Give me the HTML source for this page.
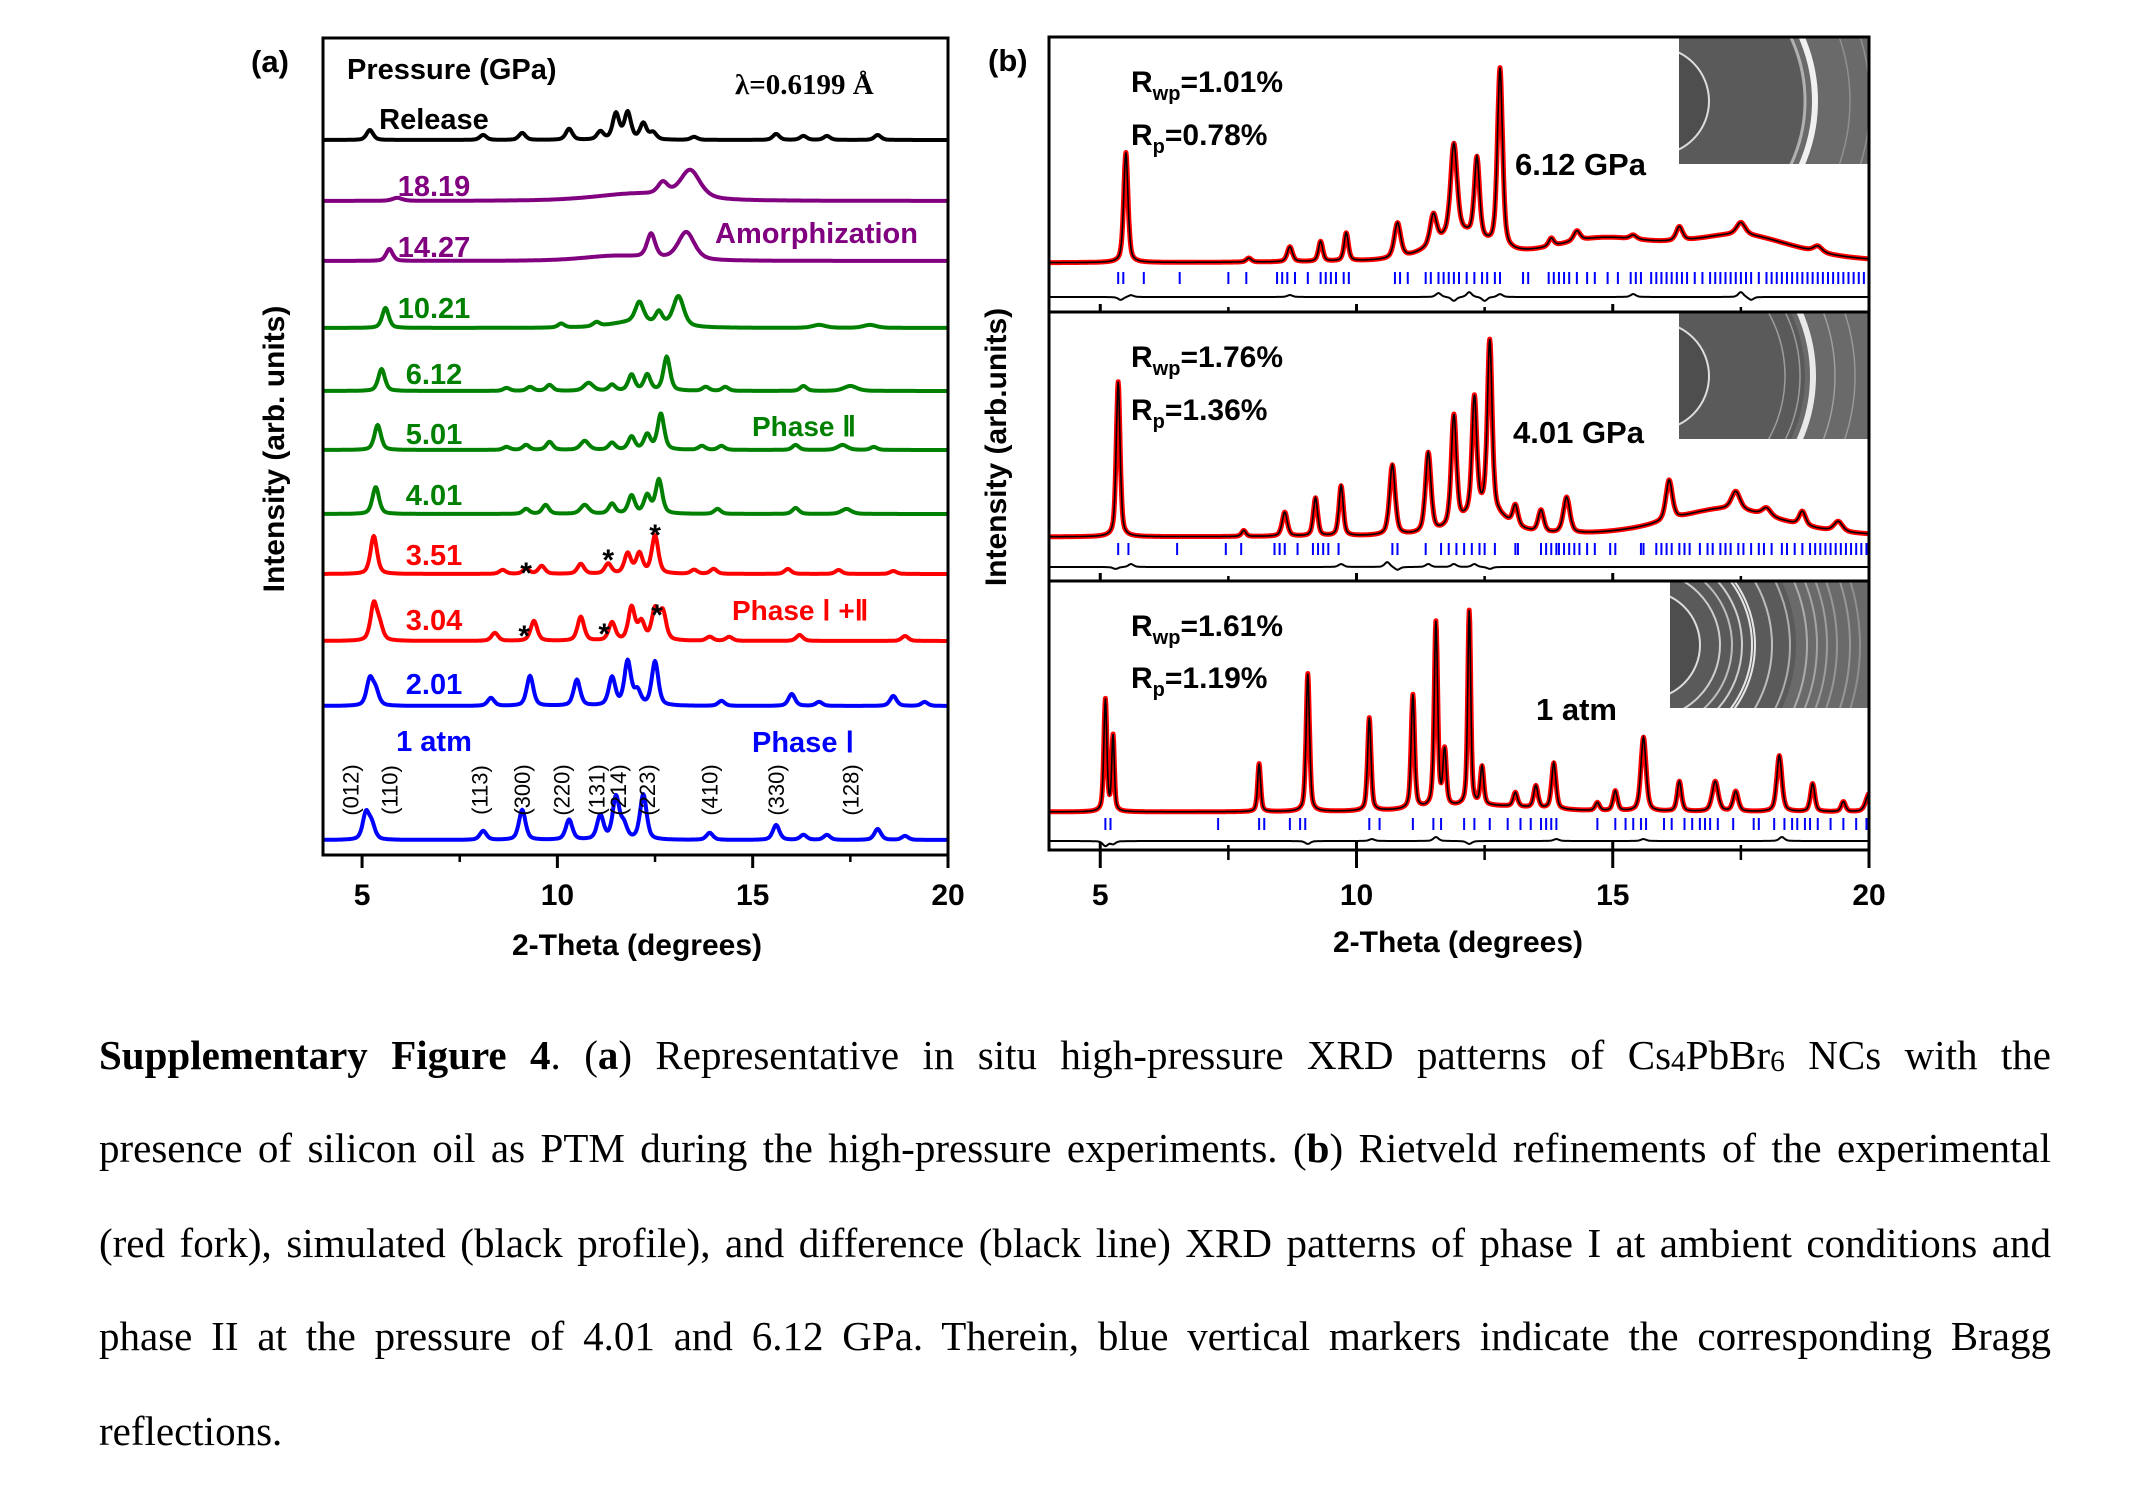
<!DOCTYPE html>
<html><head><meta charset="utf-8">
<style>
html,body{margin:0;padding:0;background:#fff;}
#wrap{position:relative;width:2138px;height:1485px;overflow:hidden;}
svg{position:absolute;left:0;top:0;}
.cap{position:absolute;left:99px;width:1952px;font-family:"Liberation Serif",serif;font-size:41px;line-height:50px;color:#000;text-align:justify;text-align-last:justify;white-space:nowrap;}
.cap.last{text-align-last:left;}
.cap sub{font-size:0.72em;vertical-align:baseline;position:relative;top:2px;}
</style></head>
<body>
<div id="wrap">
<svg id="fig" width="2138" height="1000" viewBox="0 0 2138 1000" font-family="Liberation Sans, sans-serif" font-weight="bold">
<defs>
<clipPath id="clipA"><rect x="323" y="38" width="625" height="817"/></clipPath>
<clipPath id="in1"><rect x="1679" y="38" width="190" height="126"/></clipPath>
<clipPath id="in2"><rect x="1679" y="313" width="190" height="126"/></clipPath>
<clipPath id="in3"><rect x="1670" y="582" width="199" height="126"/></clipPath>
</defs>
<g id="panelA"></g>
<g id="panelB"></g>
</svg>
<div class="cap" style="top:1030px"><b>Supplementary Figure 4</b>. (<b>a</b>) Representative in situ high-pressure XRD patterns of Cs<sub>4</sub>PbBr<sub>6</sub> NCs with the</div>
<div class="cap" style="top:1123px">presence of silicon oil as PTM during the high-pressure experiments. (<b>b</b>) Rietveld refinements of the experimental</div>
<div class="cap" style="top:1218px">(red fork), simulated (black profile), and difference (black line) XRD patterns of phase I at ambient conditions and</div>
<div class="cap" style="top:1311px">phase II at the pressure of 4.01 and 6.12 GPa. Therein, blue vertical markers indicate the corresponding Bragg</div>
<div class="cap last" style="top:1406px">reflections.</div>
</div>
<script>
// ---------- DATA (panel a) ----------
const xTicks = [5, 10, 15, 20];
const xMinorTicks = [7.5, 12.5, 17.5];
const traceLabels = ["Release","18.19","14.27","10.21","6.12","5.01","4.01","3.51","3.04","2.01","1 atm"];
const traceColors = ["#000000","#800080","#800080","#008000","#008000","#008000","#008000","#ff0000","#ff0000","#0000ff","#0000ff"];
const traceBaselines = [140,201,261,328,391,450,514,574,641,706,840];
const peaksRelease = [[5.2,10],[8.1,5],[9.1,7],[10.3,11],[11.1,8],[11.5,26],[11.8,27],[12.2,16],[12.45,7],[13.5,3],[15.6,6],[16.3,4],[16.9,4],[18.2,5]];
const peaks1819 = [[5.9,3,0.3],[12.0,7,2.5],[12.7,12,0.3],[13.4,28,0.6]];
const peaks1427 = [[5.7,12],[11.5,5,2.0],[12.4,24,0.25],[13.3,28,0.5]];
const peaks1021 = [[5.6,20],[10.1,4],[11.0,4],[12.0,6,1.5],[12.1,20,0.25],[12.6,12],[13.1,30,0.32],[16.7,3,0.4],[18.0,3,0.4]];
const peaks612 = [[5.5,22],[8.7,3],[9.3,4],[9.8,6],[10.8,8,0.28],[11.4,6],[11.9,16],[12.3,16],[12.8,34],[13.8,4],[14.3,4],[16.3,5],[17.5,5,0.4]];
const peaks501 = [[5.4,25],[8.7,3],[9.2,5],[9.8,8],[10.7,9,0.25],[11.4,7],[11.9,13],[12.3,15],[12.65,36],[13.7,4],[14.2,4],[16.1,5],[17.3,5,0.3],[18.1,3]];
const peaks401 = [[5.35,27],[9.2,5],[9.7,9],[10.7,9,0.25],[11.4,10],[11.9,18],[12.3,18],[12.6,34],[14.1,5],[16.1,6],[17.4,5,0.3]];
const peaks351 = [[5.3,38],[8.6,4],[9.2,5],[9.6,8],[10.6,10],[11.3,10],[11.8,20],[12.1,20],[12.5,38],[13.5,4],[14.0,5],[15.9,5],[17.2,4],[18.6,3]];
const peaks304 = [[5.3,36],[5.45,14],[8.4,8],[9.4,20],[10.6,24],[11.4,18],[11.9,33],[12.15,18],[12.5,30],[12.7,28],[13.9,4],[14.4,4],[16.2,6],[18.9,5]];
const peaks201 = [[5.2,26],[5.35,14],[8.3,8],[9.3,30],[10.5,26],[11.4,28],[11.8,44],[12.05,14],[12.5,44],[14.2,5],[16.0,12],[16.7,4],[18.6,10],[19.4,4]];
const peaks1atm = [[5.1,26],[5.25,14],[8.1,9],[9.1,30],[10.3,20],[11.1,24],[11.5,42],[11.7,14],[12.2,45],[13.9,7],[15.6,15],[16.3,5],[16.9,5],[18.2,11],[18.9,4]];
const tracePeaks = [peaksRelease,peaks1819,peaks1427,peaks1021,peaks612,peaks501,peaks401,peaks351,peaks304,peaks201,peaks1atm];
const traceLabelY = [119,186,247,308,374,434,495,555,620,684,741];
const hklLabels = ["(012)","(110)","(113)","(300)","(220)","(131)","(214)","(223)","(410)","(330)","(128)"];
const hklPos = [4.7,5.7,8.0,9.1,10.1,11.0,11.55,12.3,13.9,15.6,17.5];
const starsX = [9.2,11.3,12.5,9.15,11.2,12.55];
const starsY = [569,556,531,632,630,611];

// ---------- DATA (panel b) ----------
const obsTop = [[12.0,26,1.2],[14.8,22,2.5],[17.5,26,2.5],[5.5,110,0.1],[7.9,4,0.12],[8.7,15,0.12],[9.3,20,0.1],[9.8,28,0.1],[10.8,35,0.15],[11.5,30,0.15],[11.9,90,0.15],[12.35,80,0.12],[12.8,180,0.12],[13.8,8,0.12],[14.3,10,0.15],[15.4,4,0.15],[16.3,14,0.15],[17.5,12,0.2],[19.0,6,0.2]];
const obsMid = [[12.5,25,1.0],[17.2,28,2.6],[5.35,155,0.09],[7.8,6,0.1],[8.6,24,0.12],[9.2,38,0.1],[9.7,50,0.1],[10.7,70,0.13],[11.4,80,0.13],[11.9,110,0.12],[12.3,115,0.11],[12.6,170,0.11],[13.1,20,0.12],[13.6,22,0.13],[14.1,36,0.15],[16.1,40,0.15],[17.4,18,0.2],[18.0,8,0.2],[18.7,14,0.15],[19.4,10,0.2]];
const obsBot = [[12.5,6,2.5],[5.1,112,0.07],[5.25,75,0.06],[8.1,48,0.07],[9.05,138,0.08],[10.25,93,0.08],[11.1,114,0.08],[11.55,185,0.08],[11.72,55,0.08],[12.2,195,0.07],[12.45,38,0.08],[13.1,14,0.1],[13.5,22,0.1],[13.85,46,0.1],[14.7,8,0.1],[15.05,20,0.1],[15.6,74,0.12],[16.3,30,0.1],[17.0,30,0.14],[17.4,20,0.12],[18.25,56,0.12],[18.9,28,0.1],[19.5,10,0.1],[20.0,18,0.15]];
const braggTop = [5.35,5.45,5.85,6.55,7.5,7.85,8.45,8.55,8.65,8.8,9.05,9.3,9.4,9.5,9.6,9.75,9.85,10.75,10.85,11.0,11.35,11.45,11.6,11.7,11.8,11.9,12.0,12.15,12.3,12.45,12.55,12.7,12.8,13.25,13.35,13.75,13.85,13.95,14.05,14.15,14.3,14.5,14.65,14.9,15.1,15.35,15.45,15.55,15.75,15.85,15.95,16.05,16.15,16.25,16.35,16.45,16.6,16.75,16.9,17.0,17.1,17.2,17.3,17.4,17.5,17.6,17.7,17.85,18.0,18.1,18.2,18.3,18.4,18.5,18.6,18.7,18.8,18.9,19.0,19.1,19.2,19.3,19.4,19.5,19.6,19.7,19.8,19.9];
const braggMid = [5.35,5.55,6.5,7.45,7.75,8.4,8.5,8.6,8.85,9.15,9.25,9.35,9.45,9.65,10.7,10.8,11.35,11.65,11.8,11.95,12.1,12.25,12.4,12.5,12.7,13.1,13.15,13.6,13.7,13.8,13.9,13.95,14.05,14.15,14.25,14.35,14.5,14.65,14.95,15.05,15.55,15.6,15.85,15.95,16.05,16.15,16.3,16.4,16.5,16.7,16.85,16.95,17.1,17.2,17.3,17.45,17.55,17.7,17.85,17.95,18.1,18.3,18.4,18.55,18.7,18.85,18.95,19.05,19.15,19.25,19.35,19.45,19.55,19.65,19.75,19.85,19.95];
const braggBot = [5.1,5.2,7.3,8.1,8.2,8.7,8.9,9.0,10.25,10.45,11.1,11.5,11.65,12.1,12.3,12.6,12.95,13.2,13.4,13.6,13.7,13.8,13.9,14.7,15.05,15.25,15.4,15.55,15.65,16.0,16.15,16.4,16.55,16.7,16.8,16.9,17.05,17.35,17.75,17.85,18.15,18.35,18.5,18.6,18.75,18.85,19.0,19.25,19.5,19.75,19.95];
const diffTop = [[5.4,-3],[5.6,2],[8.7,2],[11.6,4],[11.9,-4],[12.2,5],[12.5,-4],[12.8,3],[15.4,3],[17.5,5],[17.7,-3]];
const diffMid = [[5.3,-2],[5.6,3],[9.7,3],[10.6,5],[10.8,-3],[11.4,3],[11.9,3],[12.3,3],[12.6,-2]];
const diffBot = [[5.1,-5],[5.25,-3],[9.05,-3],[10.3,2],[11.55,4],[12.2,-3],[13.9,2],[15.6,2],[18.3,4]];
const rwpLabels = ["=1.01%","=1.76%","=1.61%"];
const rpLabels = ["=0.78%","=1.36%","=1.19%"];
const condLabels = ["6.12 GPa","4.01 GPa","1 atm"];

// ---------- helpers ----------
const NS = "http://www.w3.org/2000/svg";
function el(tag, attrs, parent){const e=document.createElementNS(NS,tag);for(const k in attrs)e.setAttribute(k,attrs[k]);parent.appendChild(e);return e;}
function pv(x,c,w){const d=(x-c)/w;return 0.5*Math.exp(-4*Math.LN2*d*d)+0.5/(1+4*d*d);}
const xa = v => 323 + (v-4)*(625/16);
const xb = v => 1049 + (v-4)*(820/16);

// ---------- panel a ----------
const A = document.getElementById('panelA');
const curvesA = el('g',{'clip-path':'url(#clipA)'},A);


for(let i=0;i<tracePeaks.length;i++){
  let d='';
  for(let x=4;x<=20.001;x+=0.02){
    let s=0;for(const p of tracePeaks[i]) s+=p[1]*pv(x,p[0],p[2]||0.2);
    d+=(d?'L':'M')+xa(x).toFixed(1)+','+(traceBaselines[i]-s).toFixed(1);
  }
  const path=el('path',{d:d,fill:'none',stroke:traceColors[i],'stroke-width':4,'stroke-linejoin':'round'},curvesA);
  
  
  const t=el('text',{x:434,y:traceLabelY[i]+10,'text-anchor':'middle','font-size':29,fill:traceColors[i]},A);
  t.textContent=traceLabels[i];
  
  
}
for(let i=0;i<hklLabels.length;i++){
  const x=xa(hklPos[i])+8;
  const t=el('text',{x:0,y:0,transform:`translate(${x},790) rotate(-90)`,'text-anchor':'middle','font-size':22,'font-weight':'normal',fill:'#000'},A);
  t.textContent=hklLabels[i];
  
  
}
for(let i=0;i<starsX.length;i++){
  const t=el('text',{x:xa(starsX[i]),y:starsY[i]+14,'text-anchor':'middle','font-size':30,fill:'#000'},A);
  t.textContent='*';
  
  
}
const frameA=el('rect',{x:323,y:38,width:625,height:817,fill:'none',stroke:'#000','stroke-width':3},A);


for(const v of xTicks){
  const tk=el('line',{x1:xa(v),x2:xa(v),y1:855,y2:868,stroke:'#000','stroke-width':3},A);
  
  
  const t=el('text',{x:xa(v),y:905,'text-anchor':'middle','font-size':30},A);t.textContent=v;
  
  
}
for(const v of xMinorTicks){
  const tk=el('line',{x1:xa(v),x2:xa(v),y1:855,y2:862,stroke:'#000','stroke-width':2.5},A);
  
  
}
function txt(parent,x,y,s,attrs,name){const t=el('text',Object.assign({x:x,y:y},attrs||{}),parent);t.textContent=s;return t;}
txt(A,637,955,'2-Theta (degrees)',{'text-anchor':'middle','font-size':30},'x-axis-title');
txt(A,0,0,'Intensity (arb. units)',{transform:'translate(284,449) rotate(-90)','text-anchor':'middle','font-size':30},'y-axis-title');
txt(A,251,72,'(a)',{'text-anchor':'start','font-size':31},'panel-a-label');
txt(A,347,79,'Pressure (GPa)',{'font-size':29},'legend-title');
txt(A,735,94,'λ=0.6199 Å',{'font-size':29,'font-family':'Liberation Serif, serif'},'wavelength-label');
txt(A,715,243,'Amorphization',{'font-size':29,fill:'#800080'},'amorphization-label');
txt(A,752,436,'Phase Ⅱ',{'font-size':28,fill:'#008000'},'phase-ii-label');
txt(A,732,620,'Phase Ⅰ +Ⅱ',{'font-size':28,fill:'#ff0000'},'phase-i-ii-label');
txt(A,752,752,'Phase Ⅰ',{'font-size':29,fill:'#0000ff'},'phase-i-label');

// ---------- panel b ----------
const B = document.getElementById('panelB');
const subs=[
  {obs:obsTop,base:263,bragg:braggTop,by:278,diff:diffTop,dy:297,top:37,bot:312,clip:'in1',ix:1679,iy:38,ih:126,rings:[[0.9,6,160],[0.5,3,150],[0.25,1.5,195],[0.25,1.5,215],[0.2,1.5,235]]},
  {obs:obsMid,base:537,bragg:braggMid,by:549,diff:diffMid,dy:567,top:312,bot:581,clip:'in2',ix:1679,iy:313,ih:126,rings:[[0.85,6,158],[0.4,1.5,130],[0.4,1.5,145],[0.35,1.5,180],[0.3,1.5,200],[0.3,1.5,225]]},
  {obs:obsBot,base:812,bragg:braggBot,by:824,diff:diffBot,dy:841,top:581,bot:850,clip:'in3',ix:1670,iy:582,ih:126,rings:[[0.7,2,74],[0.6,2,86],[0.7,2,96],[0.85,2,106],[0.85,2,109],[0.6,2,126],[0.5,2,144],[0.45,2,161],[0.4,2,171],[0.35,2,181],[0.3,2,191],[0.3,2,204],[0.25,2,214]]}
];
subs.forEach((s,k)=>{
  const g=el('g',{},B);
  
  
  const ig=el('g',{'clip-path':`url(#${s.clip})`},g);
  
  
  el('rect',{x:s.ix,y:s.iy,width:1869-s.ix,height:s.ih,fill:'#6a6a6a'},ig);
  const cx=s.ix-24, cy=s.iy+s.ih/2;
  el('circle',{cx:cx,cy:cy,r:150,fill:'#5a5a5a'},ig);
  el('circle',{cx:cx,cy:cy,r:54,fill:'#4e4e4e',stroke:'#ddd','stroke-width':2},ig);
  for(const r of s.rings){el('circle',{cx:cx,cy:cy,r:r[2],fill:'none',stroke:`rgba(255,255,255,${r[0]})`,'stroke-width':r[1]},ig);}
  let d='';
  for(let x=4;x<=20.001;x+=0.01){
    let v=0;for(const p of s.obs) v+=p[1]*pv(x,p[0],p[2]);
    d+=(d?'L':'M')+xb(x).toFixed(1)+','+(s.base-v).toFixed(1);
  }
  const ob=el('path',{d:d,fill:'none',stroke:'#ff0000','stroke-width':5,'stroke-linejoin':'round'},g);
  
  
  const ca=el('path',{d:d,fill:'none',stroke:'#000','stroke-width':1.6},g);
  
  
  for(const b of s.bragg){
    const l=el('line',{x1:xb(b),x2:xb(b),y1:s.by-6,y2:s.by+6,stroke:'#0000ff','stroke-width':2},g);
    
    
  }
  let dd='';
  for(let x=4;x<=20.001;x+=0.02){
    let v=0;for(const p of s.diff) v+=p[1]*pv(x,p[0],0.12);
    dd+=(dd?'L':'M')+xb(x).toFixed(1)+','+(s.dy-v).toFixed(1);
  }
  const df=el('path',{d:dd,fill:'none',stroke:'#000','stroke-width':2},g);
  
  
  el('rect',{x:1049,y:s.top,width:820,height:s.bot-s.top,fill:'none',stroke:'#000','stroke-width':3},g);
  for(const v of xTicks){el('line',{x1:xb(v),x2:xb(v),y1:s.bot-8,y2:s.bot,stroke:'#000','stroke-width':3},g);}
  for(const v of xMinorTicks){el('line',{x1:xb(v),x2:xb(v),y1:s.bot-5,y2:s.bot,stroke:'#000','stroke-width':2.5},g);}
  const ry=[81,356,625][k], py=[134,409,677][k];
  const t1=el('text',{x:1131,y:ry+11,'font-size':30},g);
  t1.innerHTML='R<tspan font-size="20" dy="8">wp</tspan><tspan dy="-8">'+rwpLabels[k]+'</tspan>';
  
  
  const t2=el('text',{x:1131,y:py+11,'font-size':30},g);
  t2.innerHTML='R<tspan font-size="20" dy="8">p</tspan><tspan dy="-8">'+rpLabels[k]+'</tspan>';
  
  
  txt(g,[1515,1513,1536][k],[164,432,709][k]+11,condLabels[k],{'font-size':31},'condition-label');
});
for(const v of xTicks){
  el('line',{x1:xb(v),x2:xb(v),y1:850,y2:868,stroke:'#000','stroke-width':3},B);
  txt(B,xb(v),905,String(v),{'text-anchor':'middle','font-size':30},'x-tick-label');
}
for(const v of xMinorTicks){el('line',{x1:xb(v),x2:xb(v),y1:850,y2:860,stroke:'#000','stroke-width':2.5},B);}
txt(B,1458,952,'2-Theta (degrees)',{'text-anchor':'middle','font-size':30},'x-axis-title-b');
txt(B,0,0,'Intensity (arb.units)',{transform:'translate(1006,447) rotate(-90)','text-anchor':'middle','font-size':30},'y-axis-title-b');
txt(B,988,71,'(b)',{'font-size':31},'panel-b-label');
</script>
</body></html>
